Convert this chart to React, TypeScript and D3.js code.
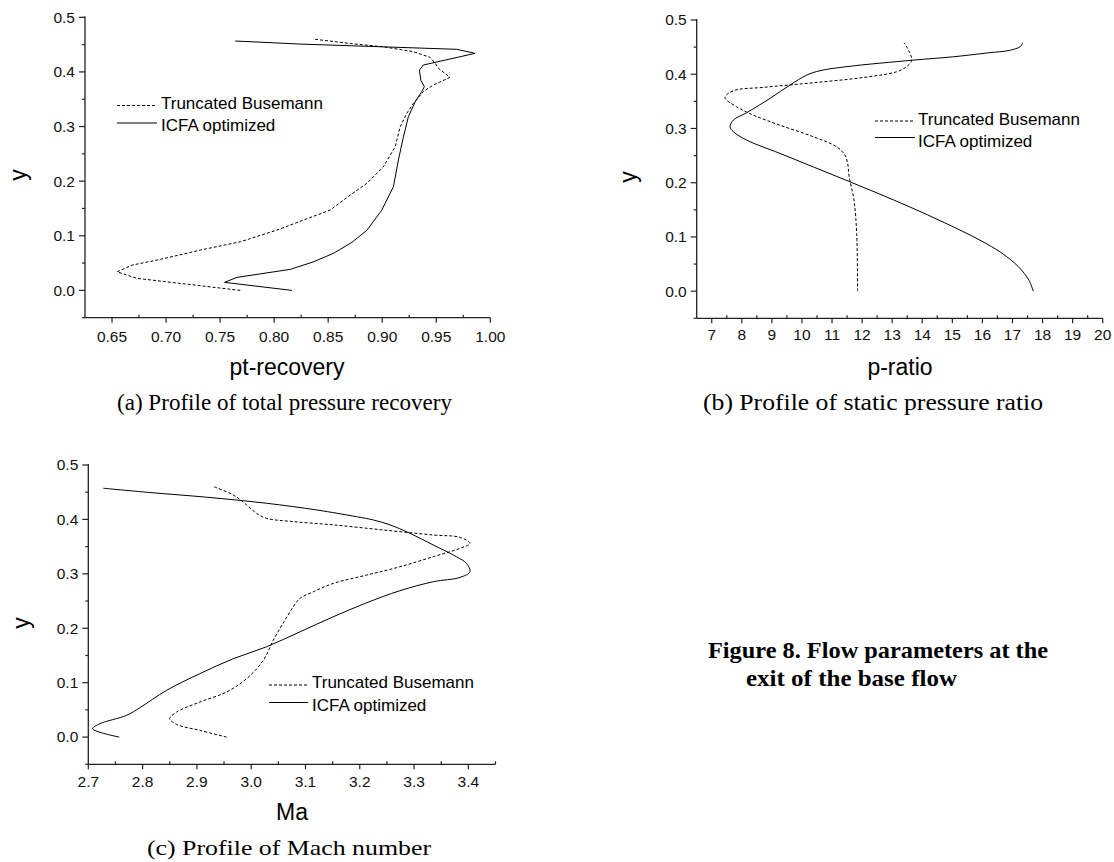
import React from 'react';
import * as d3 from 'd3';

// ---------- shared y axis ----------
const Y_MAJOR = [0.0, 0.1, 0.2, 0.3, 0.4, 0.5];
const Y_MINOR = [-0.05, 0.05, 0.15, 0.25, 0.35, 0.45];
const Y_DOMAIN: [number, number] = [-0.05, 0.5];

// ---------- (a) total pressure recovery ----------
const A_X_DOMAIN: [number, number] = [0.625, 1.0];
const A_X_MAJOR = [0.65, 0.7, 0.75, 0.8, 0.85, 0.9, 0.95, 1.0];
const A_X_MINOR = [0.675, 0.725, 0.775, 0.825, 0.875, 0.925, 0.975];
const A_TB_X = [0.7687, 0.6732, 0.6547, 0.6686, 0.6947, 0.7317, 0.7687, 0.8026, 0.8272, 0.8518, 0.8703, 0.8858, 0.901, 0.912, 0.9166, 0.9227, 0.9289, 0.938, 0.9473, 0.9627, 0.952, 0.949, 0.9443, 0.9289, 0.901, 0.8704, 0.838];
const A_TB_Y = [0.0, 0.022, 0.034, 0.0463, 0.0568, 0.0738, 0.089, 0.1104, 0.1288, 0.147, 0.1745, 0.196, 0.226, 0.263, 0.2996, 0.324, 0.3425, 0.364, 0.376, 0.39, 0.4066, 0.4157, 0.4267, 0.437, 0.446, 0.452, 0.4597];
const A_IC_X = [0.8165, 0.7541, 0.7656, 0.8149, 0.836, 0.855, 0.872, 0.8858, 0.8996, 0.9104, 0.915, 0.9196, 0.9242, 0.9304, 0.9366, 0.939, 0.9357, 0.9344, 0.938, 0.9859, 0.969, 0.824, 0.764];
const A_IC_Y = [0.0, 0.0147, 0.0238, 0.0385, 0.052, 0.068, 0.088, 0.11, 0.147, 0.19, 0.239, 0.281, 0.318, 0.345, 0.364, 0.373, 0.385, 0.4035, 0.4126, 0.434, 0.4414, 0.451, 0.4566];

// ---------- (b) static pressure ratio ----------
const B_X_DOMAIN: [number, number] = [6.5, 20];
const B_X_MAJOR = [7, 8, 9, 10, 11, 12, 13, 14, 15, 16, 17, 18, 19, 20];
const B_X_MINOR = [7.5, 8.5, 9.5, 10.5, 11.5, 12.5, 13.5, 14.5, 15.5, 16.5, 17.5, 18.5, 19.5];
const B_TB_X = [11.85, 11.82, 11.73, 11.57, 11.52, 11.43, 11.16, 10.38, 9.27, 8.38, 7.83, 7.44, 7.72, 8.72, 10.38, 12.04, 13.15, 13.48, 13.65, 13.54, 13.4];
const B_TB_Y = [0.0, 0.106, 0.168, 0.211, 0.2356, 0.251, 0.266, 0.2847, 0.306, 0.3247, 0.34, 0.357, 0.3696, 0.3758, 0.3843, 0.394, 0.4046, 0.4139, 0.426, 0.4446, 0.458];
const B_IC_X = [17.69, 17.55, 17.2, 16.65, 15.92, 14.75, 13.6, 12.5, 11.45, 10.38, 9.27, 8.16, 7.72, 7.61, 7.72, 8.16, 8.94, 9.6, 10.16, 10.6, 11.49, 13.7, 15.0, 16.2, 16.9, 17.26, 17.34];
const B_IC_Y = [0.0, 0.02, 0.045, 0.07, 0.094, 0.126, 0.155, 0.181, 0.205, 0.229, 0.254, 0.2786, 0.294, 0.303, 0.3155, 0.329, 0.3555, 0.38, 0.3985, 0.4065, 0.414, 0.426, 0.432, 0.4395, 0.444, 0.451, 0.458];

// ---------- (c) Mach number ----------
const C_X_DOMAIN: [number, number] = [2.7, 3.45];
const C_X_MAJOR = [2.7, 2.8, 2.9, 3.0, 3.1, 3.2, 3.3, 3.4];
const C_X_MINOR = [2.75, 2.85, 2.95, 3.05, 3.15, 3.25, 3.35, 3.45];
const C_TB_X = [2.9548, 2.9056, 2.8627, 2.85, 2.8627, 2.9056, 2.9548, 2.9916, 3.0223, 3.0407, 3.0622, 3.0775, 3.0898, 3.1144, 3.1512, 3.2126, 3.274, 3.3354, 3.3845, 3.403, 3.3845, 3.3354, 3.2433, 3.151, 3.0775, 3.0284, 3.01, 2.9916, 2.967, 2.9302];
const C_TB_Y = [0.0, 0.0123, 0.0233, 0.0338, 0.046, 0.0645, 0.083, 0.1074, 0.141, 0.178, 0.2149, 0.2394, 0.2548, 0.267, 0.2824, 0.2977, 0.313, 0.3315, 0.3468, 0.356, 0.367, 0.3714, 0.3806, 0.39, 0.396, 0.402, 0.411, 0.4267, 0.445, 0.4604];
const C_IC_X = [2.757, 2.708, 2.7215, 2.7706, 2.795, 2.8443, 2.9056, 2.967, 3.0284, 3.0898, 3.151, 3.2126, 3.274, 3.3354, 3.3845, 3.403, 3.3967, 3.378, 3.3354, 3.2924, 3.2556, 3.225, 3.194, 3.1205, 3.0284, 2.918, 2.8136, 2.7276];
const C_IC_Y = [0.0, 0.0153, 0.0246, 0.04, 0.054, 0.086, 0.1166, 0.144, 0.166, 0.1934, 0.221, 0.2468, 0.269, 0.2855, 0.2934, 0.304, 0.319, 0.3315, 0.353, 0.3745, 0.39, 0.399, 0.405, 0.4174, 0.4297, 0.4408, 0.4494, 0.4573];

const LEGEND_LABELS = ['Truncated Busemann', 'ICFA optimized'];
const CAPTIONS = ['(a) Profile of total pressure recovery', '(b) Profile of static pressure ratio', '(c) Profile of Mach number'];
const FIG_TITLE = ['Figure 8. Flow parameters at the', 'exit of the base flow'];

const SANS = "'Liberation Sans', Arial, sans-serif";
const SERIF = "'Liberation Serif', 'Times New Roman', serif";
const DASH = '3,2';

type Series = { xs: number[]; ys: number[]; dashed: boolean };
type LegendRow = { textY: number; lineY: number; label: string; dashed: boolean };

type PanelProps = {
  xDomain: [number, number];
  xRange: [number, number];
  yRange: [number, number];
  xMajor: number[];
  xMinor: number[];
  xFmt: (v: number) => string;
  labelOffset: number;
  series: Series[];
  curve: d3.CurveFactory;
  legend: { x1: number; x2: number; tx: number; rows: LegendRow[] };
  xTitle: string;
  xTitlePos: [number, number];
  yTitlePos: [number, number];
};

function Panel(p: PanelProps) {
  const x = d3.scaleLinear().domain(p.xDomain).range(p.xRange);
  const y = d3.scaleLinear().domain(Y_DOMAIN).range(p.yRange);
  const x0 = p.xRange[0];
  const y0 = p.yRange[0];
  const yTop = p.yRange[1];
  const yFmt = d3.format('.1f');
  const axisColor = '#222';
  return (
    <g>
      {p.series.map((s, i) => {
        const pts: [number, number][] = s.xs.map((v, k) => [v, s.ys[k]]);
        const line = d3
          .line<[number, number]>()
          .x((d) => x(d[0]))
          .y((d) => y(d[1]))
          .curve(p.curve);
        return (
          <path
            key={i}
            d={line(pts) || ''}
            fill="none"
            stroke="#000"
            strokeWidth={1}
            strokeDasharray={s.dashed ? DASH : undefined}
          />
        );
      })}
      <line x1={x0} x2={x0} y1={y0} y2={yTop - 1} stroke={axisColor} strokeWidth={1.3} />
      <line x1={x0} x2={p.xRange[1]} y1={y0} y2={y0} stroke={axisColor} strokeWidth={1.3} />
      {p.xMajor.map((v) => (
        <g key={'xm' + v}>
          <line x1={x(v)} x2={x(v)} y1={y0} y2={y0 + 5} stroke={axisColor} strokeWidth={1.2} />
          <text x={x(v)} y={y0 + p.labelOffset} textAnchor="middle" fontFamily={SANS} fontSize={15.5} fill="#111">
            {p.xFmt(v)}
          </text>
        </g>
      ))}
      {p.xMinor.map((v) => (
        <line key={'xn' + v} x1={x(v)} x2={x(v)} y1={y0} y2={y0 - 3} stroke={axisColor} strokeWidth={1.2} />
      ))}
      {Y_MAJOR.map((v) => (
        <g key={'ym' + v}>
          <line x1={x0 - 6} x2={x0} y1={y(v)} y2={y(v)} stroke={axisColor} strokeWidth={1.2} />
          <text x={x0 - 10} y={y(v) + 5.4} textAnchor="end" fontFamily={SANS} fontSize={15.5} fill="#111">
            {yFmt(v)}
          </text>
        </g>
      ))}
      {Y_MINOR.map((v) => (
        <line key={'yn' + v} x1={x0 - 3} x2={x0} y1={y(v)} y2={y(v)} stroke={axisColor} strokeWidth={1.2} />
      ))}
      <text x={p.xTitlePos[0]} y={p.xTitlePos[1]} textAnchor="middle" fontFamily={SANS} fontSize={23} fill="#000">
        {p.xTitle}
      </text>
      <text
        transform={`translate(${p.yTitlePos[0]},${p.yTitlePos[1]}) rotate(-90)`}
        textAnchor="middle"
        fontFamily={SANS}
        fontSize={23}
        fill="#000"
      >
        y
      </text>
      {p.legend.rows.map((r, i) => (
        <g key={'lg' + i}>
          <line
            x1={p.legend.x1}
            x2={p.legend.x2}
            y1={r.lineY}
            y2={r.lineY}
            stroke="#000"
            strokeWidth={1}
            strokeDasharray={r.dashed ? DASH : undefined}
          />
          <text x={p.legend.tx} y={r.textY} dominantBaseline="central" fontFamily={SANS} fontSize={17} fill="#000">
            {r.label}
          </text>
        </g>
      ))}
    </g>
  );
}

export default function App() {
  const smooth = d3.curveCatmullRom.alpha(0.5);
  return (
    <svg
      width={1114}
      height={862}
      style={{ position: 'absolute', left: 0, top: 0, background: '#fff' }}
    >
      <rect x={0} y={0} width={1114} height={862} fill="#fff" />
      <Panel
        xDomain={A_X_DOMAIN}
        xRange={[85, 490.3]}
        yRange={[317.7, 17.3]}
        xMajor={A_X_MAJOR}
        xMinor={A_X_MINOR}
        xFmt={d3.format('.2f')}
        labelOffset={24}
        series={[
          { xs: A_TB_X, ys: A_TB_Y, dashed: true },
          { xs: A_IC_X, ys: A_IC_Y, dashed: false },
        ]}
        curve={d3.curveLinear}
        legend={{
          x1: 117,
          x2: 157,
          tx: 161,
          rows: [
            { textY: 103, lineY: 105.5, label: LEGEND_LABELS[0], dashed: true },
            { textY: 125.5, lineY: 123, label: LEGEND_LABELS[1], dashed: false },
          ],
        }}
        xTitle="pt-recovery"
        xTitlePos={[287, 375]}
        yTitlePos={[25.6, 175]}
      />
      <Panel
        xDomain={B_X_DOMAIN}
        xRange={[696.7, 1102.7]}
        yRange={[318.3, 20]}
        xMajor={B_X_MAJOR}
        xMinor={B_X_MINOR}
        xFmt={d3.format('d')}
        labelOffset={22}
        series={[
          { xs: B_TB_X, ys: B_TB_Y, dashed: true },
          { xs: B_IC_X, ys: B_IC_Y, dashed: false },
        ]}
        curve={smooth}
        legend={{
          x1: 875,
          x2: 915,
          tx: 918,
          rows: [
            { textY: 119, lineY: 121, label: LEGEND_LABELS[0], dashed: true },
            { textY: 141, lineY: 137.5, label: LEGEND_LABELS[1], dashed: false },
          ],
        }}
        xTitle="p-ratio"
        xTitlePos={[900, 375]}
        yTitlePos={[635.6, 177]}
      />
      <Panel
        xDomain={C_X_DOMAIN}
        xRange={[88.3, 495.5]}
        yRange={[764.3, 465]}
        xMajor={C_X_MAJOR}
        xMinor={C_X_MINOR}
        xFmt={d3.format('.1f')}
        labelOffset={22.5}
        series={[
          { xs: C_TB_X, ys: C_TB_Y, dashed: true },
          { xs: C_IC_X, ys: C_IC_Y, dashed: false },
        ]}
        curve={smooth}
        legend={{
          x1: 269,
          x2: 308,
          tx: 312,
          rows: [
            { textY: 682.7, lineY: 685, label: LEGEND_LABELS[0], dashed: true },
            { textY: 705, lineY: 702.5, label: LEGEND_LABELS[1], dashed: false },
          ],
        }}
        xTitle="Ma"
        xTitlePos={[292, 820]}
        yTitlePos={[28.6, 623]}
      />
      <text x={117} y={410} fontFamily={SERIF} fontSize={23} textLength={335} lengthAdjust="spacingAndGlyphs">
        {CAPTIONS[0]}
      </text>
      <text x={703} y={410} fontFamily={SERIF} fontSize={23} textLength={340} lengthAdjust="spacingAndGlyphs">
        {CAPTIONS[1]}
      </text>
      <text x={147} y={855} fontFamily={SERIF} fontSize={22} textLength={284} lengthAdjust="spacingAndGlyphs">
        {CAPTIONS[2]}
      </text>
      <text x={708} y={658} fontFamily={SERIF} fontSize={24} fontWeight="bold" textLength={340} lengthAdjust="spacingAndGlyphs">
        {FIG_TITLE[0]}
      </text>
      <text x={746} y={686} fontFamily={SERIF} fontSize={24} fontWeight="bold" textLength={211} lengthAdjust="spacingAndGlyphs">
        {FIG_TITLE[1]}
      </text>
    </svg>
  );
}
